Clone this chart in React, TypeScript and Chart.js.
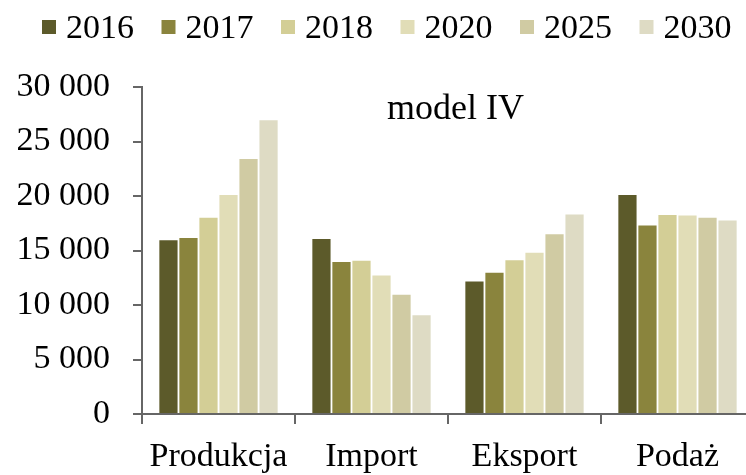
import React, { useEffect, useRef } from "react";
import { Chart, registerables } from "chart.js";

Chart.register(...registerables);

const categories = ["Produkcja", "Import", "Eksport", "Podaż"];
const seriesLabels = ["2016", "2017", "2018", "2020", "2025", "2030"];
const values2016 = [15950, 16050, 12150, 20100];
const values2017 = [16150, 13950, 12950, 17300];
const values2018 = [18000, 14050, 14100, 18250];
const values2020 = [20100, 12700, 14800, 18200];
const values2025 = [23400, 10950, 16500, 18000];
const values2030 = [26950, 9050, 18300, 17750];
const seriesColors = ["#5c5a2a", "#8a843d", "#d3ce96", "#e1ddb7", "#d0cba3", "#dedbc4"];
const yMin = 0;
const yMax = 30000;
const yStep = 5000;
const chartTitle = "model IV";

const FONT = "'Liberation Serif', 'Times New Roman', serif";

function formatThousands(v: number): string {
  return String(v).replace(/\B(?=(\d{3})+(?!\d))/g, " ");
}

const legendPlugin = {
  id: "customLegend",
  afterDraw(chart: any) {
    const ctx = chart.ctx;
    ctx.save();
    ctx.font = `34px ${FONT}`;
    ctx.textBaseline = "alphabetic";
    ctx.textAlign = "left";
    let x = 42;
    chart.data.datasets.forEach((ds: any) => {
      ctx.fillStyle = ds.backgroundColor;
      ctx.fillRect(x, 20, 14, 14);
      ctx.fillStyle = "#000";
      ctx.fillText(ds.label, x + 24, 38);
      const w = ctx.measureText(ds.label).width;
      x += 24 + w + 27.5;
    });
    ctx.restore();
  },
};

const titlePlugin = {
  id: "innerTitle",
  afterDraw(chart: any) {
    const ctx = chart.ctx;
    ctx.save();
    ctx.font = `36px ${FONT}`;
    ctx.fillStyle = "#000";
    ctx.textBaseline = "alphabetic";
    ctx.textAlign = "left";
    ctx.fillText(chartTitle, 387, 119);
    ctx.restore();
  },
};

export default function App() {
  const canvasRef = useRef<HTMLCanvasElement | null>(null);

  useEffect(() => {
    if (!canvasRef.current) return;
    const seriesValues = [values2016, values2017, values2018, values2020, values2025, values2030];
    const chart = new Chart(canvasRef.current, {
      type: "bar",
      data: {
        labels: categories,
        datasets: seriesLabels.map((label, i) => ({
          label,
          data: seriesValues[i],
          backgroundColor: seriesColors[i],
          borderWidth: 0,
          categoryPercentage: 0.785,
          barPercentage: 0.91,
        })),
      },
      options: {
        animation: false,
        responsive: true,
        maintainAspectRatio: false,
        layout: { padding: { top: 87, left: 0, right: 0, bottom: 0 } },
        plugins: {
          legend: { display: false },
          tooltip: { enabled: false },
          title: { display: false },
        },
        scales: {
          x: {
            afterFit(scale: any) {
              scale.height = 61;
            },
            grid: {
              offset: true,
              drawOnChartArea: false,
              drawTicks: true,
              tickLength: 10,
              color: "#666",
              lineWidth: 2,
            },
            border: { display: true, color: "#666", width: 2 },
            ticks: {
              color: "#000",
              padding: 13,
              font: { family: FONT, size: 34 },
              maxRotation: 0,
            },
          },
          y: {
            min: yMin,
            max: yMax,
            afterFit(scale: any) {
              scale.width = 142;
            },
            grid: {
              drawOnChartArea: false,
              drawTicks: true,
              tickLength: 9,
              color: "#666",
              lineWidth: 2,
            },
            border: { display: true, color: "#666", width: 2 },
            ticks: {
              stepSize: yStep,
              color: "#000",
              padding: 23,
              font: { family: FONT, size: 34 },
              callback: (v: any) => formatThousands(Number(v)),
            },
          },
        },
      },
      plugins: [legendPlugin, titlePlugin],
    });
    return () => chart.destroy();
  }, []);

  return (
    <div style={{ position: "fixed", left: 0, top: 0, width: 746, height: 475, overflow: "hidden", background: "#fff" }}>
      <div style={{ position: "relative", width: 754, height: 475 }}>
        <canvas ref={canvasRef} />
      </div>
    </div>
  );
}
